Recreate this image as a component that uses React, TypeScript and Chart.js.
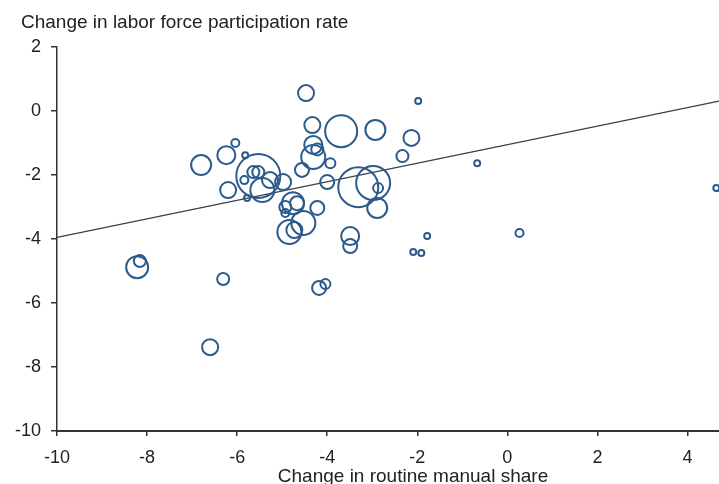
import React, { useEffect, useRef } from "react";
import { Chart, registerables } from "chart.js";

Chart.register(...registerables);

// Change in routine manual share (x), change in LFPR (y), bubble size (weight)
const shareChange = [
  -4.47, -1.98, -3.69, -2.93, -4.33, -2.13, -2.33, -0.67, -4.31, -4.22,
  -4.31, -4.56, -3.93, -4.0, -3.31, -2.98, -2.87, -2.89, -6.04, -6.24,
  -6.8, -5.82, -5.53, -5.64, -5.53, -5.84, -6.2, -5.44, -5.27, -4.98,
  -5.78, -4.67, -4.93, -4.93, -4.22, -4.53, -4.84, -4.73, -3.49, -3.49,
  -4.18, -4.04, -1.78, -2.09, -1.91, 0.27, 4.64, -8.22, -8.16, -6.31,
  -6.6, -4.76,
];
const lfprChange = [
  0.56, 0.31, -0.63, -0.59, -0.44, -0.84, -1.41, -1.63, -1.06, -1.2,
  -1.44, -1.84, -1.63, -2.22, -2.38, -2.25, -2.41, -3.03, -1.0, -1.38,
  -1.69, -1.38, -2.03, -1.91, -1.91, -2.16, -2.47, -2.47, -2.16, -2.22,
  -2.72, -2.88, -3.0, -3.19, -3.03, -3.5, -3.78, -3.72, -3.91, -4.22,
  -5.53, -5.41, -3.91, -4.41, -4.44, -3.81, -2.41, -4.88, -4.69, -5.25,
  -7.38, -2.88,
];
const bubbleSize = [
  8, 3, 16, 10, 8, 8, 6, 3, 9, 6,
  12, 7, 5, 7, 20, 17, 5, 10, 4, 9,
  10, 3, 22, 6, 6, 4, 8, 12, 8, 8,
  3, 7, 6, 4, 7, 12, 12, 8, 9, 7,
  7, 5, 3, 3, 3, 4, 3, 11, 6, 6,
  8, 11,
];

const trendX = [-10, 4.7];
const trendY = [-3.95, 0.31];

const xTitle = "Change in routine manual share";
const yTitle = "Change in labor force participation rate";

const FONT = "'Liberation Sans', Arial, sans-serif";
const TEXT = "#222222";
const AXIS = "#333333";

export default function App() {
  const ref = useRef<HTMLCanvasElement | null>(null);

  useEffect(() => {
    document.body.style.margin = "0";
    const canvas = ref.current;
    if (!canvas) return;

    const titlesPlugin = {
      id: "titlesPlugin",
      afterDraw(chart: any) {
        const { ctx, chartArea } = chart;
        ctx.save();
        ctx.font = `19px ${FONT}`;
        ctx.fillStyle = TEXT;
        ctx.textBaseline = "alphabetic";
        ctx.textAlign = "left";
        ctx.fillText(yTitle, 21, 28);
        ctx.textAlign = "center";
        ctx.fillText(xTitle, chartArea.left + 356, 482);
        ctx.restore();
      },
    };

    const chart = new Chart(canvas, {
      type: "bubble",
      data: {
        datasets: [
          {
            type: "line",
            data: trendX.map((x, i) => ({ x, y: trendY[i] })),
            borderColor: "#3a3d42",
            borderWidth: 1.3,
            pointRadius: 0,
            fill: false,
            order: 2,
          } as any,
          {
            type: "bubble",
            data: shareChange.map((x, i) => ({ x, y: lfprChange[i], r: bubbleSize[i] })),
            borderColor: "#2c5a8d",
            backgroundColor: "rgba(0,0,0,0)",
            borderWidth: 2,
            order: 1,
            clip: false,
          } as any,
        ],
      },
      options: {
        animation: false,
        responsive: false,
        maintainAspectRatio: false,
        layout: { autoPadding: false, padding: { left: 0, right: 0, top: 47, bottom: 0 } },
        plugins: {
          legend: { display: false },
          tooltip: { enabled: false },
          title: { display: false },
        },
        scales: {
          x: {
            type: "linear",
            min: -10,
            max: 4.7,
            afterFit: (s: any) => {
              s.height = 53;
              s.paddingRight = 0;
              s.paddingLeft = 0;
            },
            ticks: {
              stepSize: 2,
              includeBounds: false,
              color: TEXT,
              font: { family: FONT, size: 18 },
              padding: 11,
              maxRotation: 0,
            },
            grid: {
              display: true,
              drawOnChartArea: false,
              drawTicks: true,
              tickLength: 5,
              color: AXIS,
              lineWidth: 1.5,
            },
            border: { display: true, color: AXIS, width: 2 },
          },
          y: {
            type: "linear",
            min: -10,
            max: 2,
            afterFit: (s: any) => {
              s.width = 57;
              s.paddingTop = 0;
              s.paddingBottom = 0;
            },
            ticks: {
              stepSize: 2,
              color: TEXT,
              font: { family: FONT, size: 18 },
              padding: 10,
            },
            grid: {
              display: true,
              drawOnChartArea: false,
              drawTicks: true,
              tickLength: 6,
              color: AXIS,
              lineWidth: 1.5,
            },
            border: { display: true, color: AXIS, width: 1.5 },
          },
        },
      },
      plugins: [titlesPlugin],
    });

    return () => chart.destroy();
  }, []);

  return (
    <div style={{ position: "absolute", left: 0, top: 0, width: 719, height: 484, background: "#fff" }}>
      <canvas ref={ref} width={719} height={484} style={{ width: 719, height: 484, display: "block" }} />
    </div>
  );
}
